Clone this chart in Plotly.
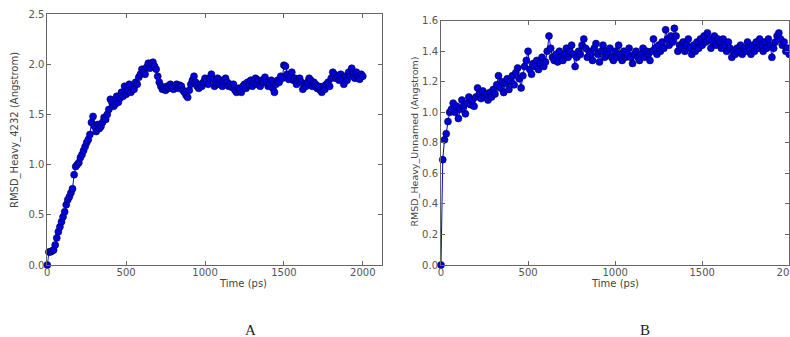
import plotly.graph_objects as go

# RMSD values, sampled every 10 ps from 0 to 2000 ps
rmsd_a = [
    0.00, 0.13, 0.13, 0.14, 0.15, 0.20, 0.27, 0.33, 0.38, 0.43,
    0.48, 0.53, 0.60, 0.65, 0.68, 0.72, 0.76, 0.90, 0.98, 1.00,
    1.02, 1.07, 1.10, 1.14, 1.18, 1.22, 1.25, 1.30, 1.42, 1.48,
    1.38, 1.33, 1.40, 1.36, 1.38, 1.42, 1.47, 1.45, 1.50, 1.55,
    1.65, 1.62, 1.58, 1.60, 1.68, 1.62, 1.66, 1.72, 1.68, 1.78,
    1.70, 1.74, 1.80, 1.72, 1.76, 1.75, 1.82, 1.80, 1.87, 1.90,
    1.95, 1.93, 1.90, 1.97, 2.01, 1.96, 2.01, 2.02, 1.98, 1.95,
    1.88, 1.82, 1.78, 1.75, 1.77, 1.74, 1.78, 1.76, 1.80, 1.77,
    1.75, 1.78, 1.80, 1.76, 1.79, 1.78, 1.74, 1.72, 1.69, 1.67,
    1.74, 1.80, 1.84, 1.88, 1.82, 1.78, 1.76, 1.80, 1.78, 1.82,
    1.86, 1.84, 1.80, 1.86, 1.90, 1.85, 1.78, 1.82, 1.86, 1.80,
    1.84, 1.78, 1.83, 1.86, 1.82, 1.78, 1.80, 1.77, 1.80, 1.74,
    1.72, 1.76, 1.74, 1.72, 1.78, 1.80, 1.76, 1.82, 1.79, 1.84,
    1.78, 1.82, 1.86, 1.80, 1.84, 1.78, 1.84, 1.82, 1.87, 1.82,
    1.78, 1.80, 1.84, 1.76, 1.72, 1.80, 1.84, 1.82, 1.88, 1.86,
    1.99, 1.98, 1.90, 1.85, 1.88, 1.92, 1.84, 1.86, 1.80, 1.84,
    1.86, 1.82, 1.75, 1.80, 1.78, 1.82, 1.86, 1.84, 1.78, 1.82,
    1.80, 1.76, 1.78, 1.74, 1.72, 1.78, 1.75, 1.80, 1.82, 1.78,
    1.86, 1.92, 1.90, 1.86, 1.88, 1.84, 1.90, 1.86, 1.80, 1.88,
    1.84, 1.92, 1.88, 1.96, 1.90, 1.86, 1.92, 1.88, 1.85, 1.90,
    1.88,
]

rmsd_b = [
    0.00, 0.69, 0.82, 0.86, 0.94, 1.00, 1.02, 1.06, 1.00, 1.04,
    0.96, 1.02, 1.08, 1.04, 0.99, 1.06, 1.10, 1.05, 1.08, 1.04,
    1.10, 1.16, 1.12, 1.09, 1.14, 1.10, 1.12, 1.08, 1.13, 1.10,
    1.15, 1.12, 1.18, 1.24, 1.16, 1.20, 1.13, 1.19, 1.22, 1.15,
    1.20, 1.24, 1.18, 1.26, 1.29, 1.22, 1.16, 1.24, 1.30, 1.34,
    1.40, 1.28, 1.25, 1.32, 1.30, 1.34, 1.28, 1.32, 1.36, 1.30,
    1.33, 1.40, 1.50, 1.42, 1.36, 1.34, 1.38, 1.33, 1.40, 1.36,
    1.34, 1.38, 1.42, 1.36, 1.40, 1.44, 1.38, 1.30, 1.36, 1.40,
    1.38, 1.44, 1.48, 1.42, 1.36, 1.40, 1.38, 1.34, 1.42, 1.45,
    1.38, 1.33, 1.40, 1.44, 1.36, 1.40, 1.38, 1.42, 1.36, 1.34,
    1.40, 1.36, 1.44, 1.38, 1.34, 1.40, 1.36, 1.38, 1.42, 1.36,
    1.32, 1.38, 1.40, 1.36, 1.34, 1.38, 1.42, 1.36, 1.40, 1.38,
    1.34, 1.40, 1.48, 1.42, 1.38, 1.44, 1.40, 1.46, 1.42, 1.54,
    1.48, 1.44, 1.50, 1.46, 1.55, 1.50, 1.40, 1.44, 1.42, 1.46,
    1.40, 1.44, 1.48, 1.42, 1.38, 1.44, 1.40, 1.46, 1.42, 1.48,
    1.44, 1.50, 1.46, 1.52, 1.48, 1.42, 1.46, 1.50, 1.44, 1.48,
    1.46, 1.42, 1.48, 1.44, 1.40, 1.46, 1.42, 1.36, 1.40, 1.38,
    1.42, 1.40, 1.44, 1.38, 1.42, 1.40, 1.46, 1.42, 1.38, 1.44,
    1.40, 1.46, 1.42, 1.48, 1.44, 1.40, 1.46, 1.42, 1.48, 1.44,
    1.36, 1.42, 1.46, 1.50, 1.52, 1.48, 1.44, 1.46, 1.40, 1.42,
    1.38,
]

time_a = [10 * i for i in range(len(rmsd_a))]
time_b = [10 * i for i in range(len(rmsd_b))]

x_ticks = [0, 500, 1000, 1500, 2000]
y_ticks_a = [0.0, 0.5, 1.0, 1.5, 2.0, 2.5]
y_ticks_b = [0.0, 0.2, 0.4, 0.6, 0.8, 1.0, 1.2, 1.4, 1.6]

W, H = 790, 337
blue = "#0000dd"

fig = go.Figure()
for t, y, xa, ya in [(time_a, rmsd_a, "x", "y"), (time_b, rmsd_b, "x2", "y2")]:
    fig.add_trace(go.Scatter(
        x=t, y=y, xaxis=xa, yaxis=ya, mode="lines+markers",
        line=dict(color=blue, width=1),
        marker=dict(color=blue, size=7, line=dict(color="#00003a", width=0.6)),
        showlegend=False, cliponaxis=False,
    ))

axis_common = dict(
    showline=True, mirror="allticks", linecolor="#666666", linewidth=1,
    ticks="inside", ticklen=4, tickcolor="#666666", tickwidth=1,
    showgrid=False, zeroline=False, ticklabeloverflow="allow", automargin=False,
    tickfont=dict(family="DejaVu Sans", size=10, color="#555555"),
)

def px_x(p):
    return p / W

def px_y(p):
    return (H - p) / H

fig.update_layout(
    width=W, height=H, margin=dict(l=0, r=0, t=0, b=0, autoexpand=False),
    paper_bgcolor="white", plot_bgcolor="white",
    xaxis=dict(domain=[px_x(47.3), px_x(381.7)], range=[0, 2120],
               tickvals=x_ticks, ticklabelstandoff=-2, **axis_common),
    yaxis=dict(domain=[px_y(265), px_y(14)], range=[0, 2.5],
               tickvals=y_ticks_a, tickformat=".1f", **axis_common),
    xaxis2=dict(domain=[px_x(441), px_x(789.3)], range=[0, 2000],
                tickvals=x_ticks, anchor="y2", ticklabelstandoff=-2, **axis_common),
    yaxis2=dict(domain=[px_y(265), px_y(20.7)], range=[0, 1.6],
                tickvals=y_ticks_b, tickformat=".1f", anchor="x2", **axis_common),
)

lab_font = dict(family="DejaVu Sans", size=10, color="#444444")
ann = [
    dict(text="Time (ps)", x=px_x(243), y=px_y(283), font=lab_font),
    dict(text="Time (ps)", x=px_x(615), y=px_y(283), font=lab_font),
    dict(text="RMSD_Heavy_4232 (Angstrom)", x=px_x(15), y=px_y(130),
         textangle=-90, font=lab_font),
    dict(text="RMSD_Heavy_Unnamed (Angstrom)", x=px_x(414), y=px_y(141.5),
         textangle=-90, font=dict(family="DejaVu Sans", size=9.5, color="#444444")),
    dict(text="A", x=px_x(250), y=px_y(330),
         font=dict(family="Liberation Serif", size=15, color="#222222")),
    dict(text="B", x=px_x(645), y=px_y(330),
         font=dict(family="Liberation Serif", size=15, color="#222222")),
]
for a in ann:
    fig.add_annotation(xref="paper", yref="paper", showarrow=False,
                       xanchor="center", yanchor="middle", **a)

fig.write_html("out.html", config={"displayModeBar": False},
               post_script="document.body.style.margin='0';document.body.style.overflow='hidden';")
